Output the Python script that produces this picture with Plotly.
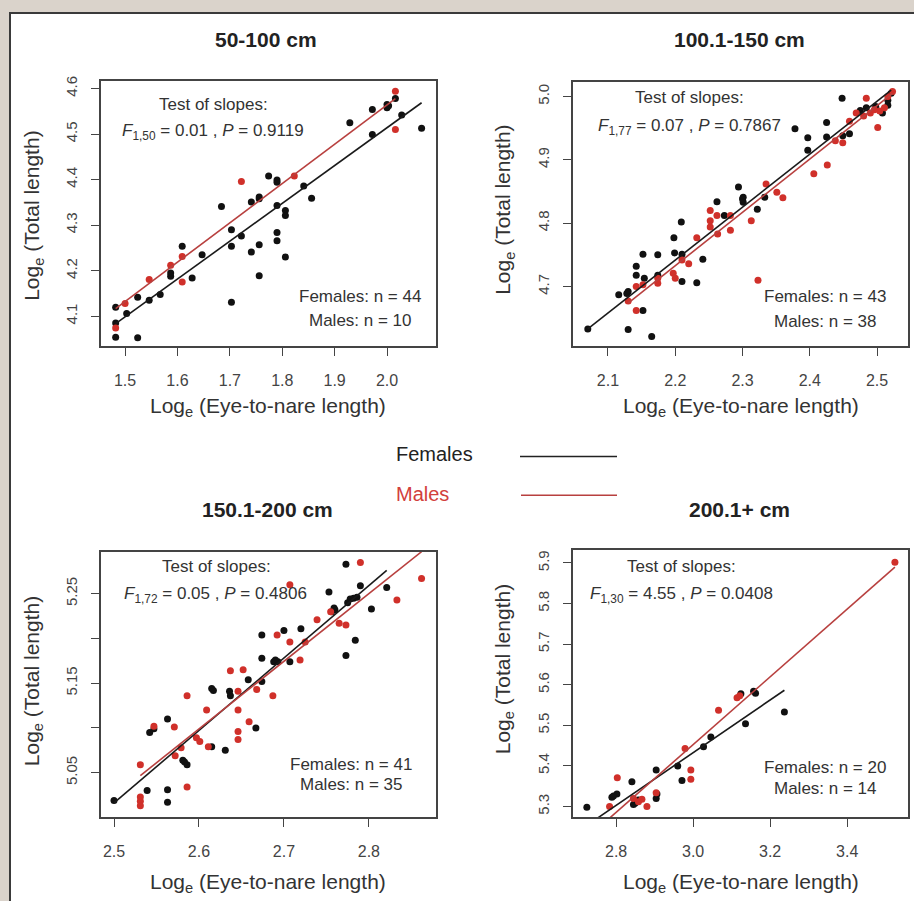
import plotly.graph_objects as go

W, H = 914, 901

# ---------------- data ----------------
panel_titles = ["50-100 cm", "100.1-150 cm", "150.1-200 cm", "200.1+ cm"]

# Panel 1: 50-100 cm
p1_fem_x = [1.482, 1.482, 1.482, 1.524, 1.503, 1.524, 1.546, 1.567, 1.587, 1.587, 1.609, 1.628, 1.647, 1.684,
            1.703, 1.703, 1.703, 1.722, 1.741, 1.741, 1.756, 1.756, 1.756, 1.756, 1.774, 1.790, 1.790, 1.790,
            1.790, 1.790, 1.806, 1.806, 1.806, 1.841, 1.856, 1.929, 1.972, 1.972, 2.000, 2.000, 2.003, 2.016,
            2.028, 2.066]
p1_fem_y = [4.120, 4.085, 4.054, 4.053, 4.106, 4.142, 4.135, 4.148, 4.188, 4.195, 4.254, 4.184, 4.235, 4.341,
            4.290, 4.254, 4.131, 4.276, 4.351, 4.241, 4.358, 4.362, 4.257, 4.189, 4.408, 4.399, 4.394, 4.343,
            4.284, 4.266, 4.332, 4.321, 4.230, 4.386, 4.359, 4.525, 4.554, 4.499, 4.565, 4.558, 4.562, 4.578,
            4.542, 4.513]
p1_male_x = [1.482, 1.500, 1.546, 1.587, 1.609, 1.609, 1.722, 1.823, 2.016, 2.016]
p1_male_y = [4.074, 4.128, 4.181, 4.212, 4.231, 4.175, 4.396, 4.408, 4.594, 4.510]

# Panel 2: 100.1-150 cm
p2_fem_x = [2.070, 2.116, 2.130, 2.130, 2.142, 2.142, 2.154, 2.152, 2.152, 2.165, 2.174, 2.174, 2.198, 2.199,
            2.209, 2.210, 2.210, 2.232, 2.241, 2.262, 2.273, 2.294, 2.301, 2.301, 2.322, 2.333, 2.378, 2.397,
            2.397, 2.425, 2.425, 2.448, 2.449, 2.475, 2.498, 2.508, 2.516, 2.521, 2.459, 2.484, 2.516, 2.128,
            2.300]
p2_fem_y = [4.633, 4.687, 4.692, 4.632, 4.732, 4.718, 4.713, 4.751, 4.662, 4.621, 4.750, 4.718, 4.777, 4.753,
            4.802, 4.751, 4.708, 4.706, 4.743, 4.834, 4.812, 4.857, 4.841, 4.833, 4.822, 4.841, 4.949, 4.935,
            4.915, 4.959, 4.936, 4.997, 4.938, 4.978, 4.984, 4.974, 4.986, 5.005, 4.941, 4.982, 4.994, 4.689,
            4.838]
p2_male_x = [2.130, 2.142, 2.142, 2.152, 2.174, 2.174, 2.197, 2.200, 2.210, 2.220, 2.232, 2.252, 2.252, 2.252,
             2.263, 2.262, 2.282, 2.282, 2.313, 2.335, 2.351, 2.360, 2.323, 2.406, 2.426, 2.438, 2.449, 2.459,
             2.484, 2.480, 2.490, 2.501, 2.504, 2.516, 2.523, 2.511, 2.469, 2.496]
p2_male_y = [4.677, 4.700, 4.662, 4.703, 4.705, 4.713, 4.721, 4.713, 4.742, 4.736, 4.777, 4.820, 4.804, 4.794,
             4.783, 4.812, 4.789, 4.812, 4.804, 4.862, 4.849, 4.840, 4.710, 4.878, 4.892, 4.930, 4.927, 4.961,
             4.997, 4.969, 4.974, 4.951, 4.977, 5.000, 5.008, 4.982, 4.974, 4.979]

# Panel 3: 150.1-200 cm
p3_fem_x = [2.500, 2.539, 2.563, 2.563, 2.563, 2.547, 2.581, 2.586, 2.615, 2.615, 2.631, 2.636, 2.637, 2.658,
            2.667, 2.674, 2.674, 2.674, 2.688, 2.693, 2.700, 2.707, 2.720, 2.753, 2.759, 2.756, 2.773, 2.773,
            2.778, 2.782, 2.784, 2.786, 2.790, 2.803, 2.821, 2.775, 2.690, 2.583, 2.617, 2.760, 2.542]
p3_fem_y = [5.019, 5.030, 5.031, 5.017, 5.110, 5.099, 5.064, 5.059, 5.144, 5.079, 5.075, 5.141, 5.136, 5.154,
            5.100, 5.152, 5.178, 5.204, 5.174, 5.174, 5.209, 5.174, 5.211, 5.252, 5.234, 5.230, 5.283, 5.181,
            5.244, 5.245, 5.198, 5.246, 5.259, 5.233, 5.257, 5.240, 5.176, 5.062, 5.142, 5.232, 5.095]
p3_male_x = [2.531, 2.531, 2.531, 2.531, 2.547, 2.571, 2.572, 2.579, 2.586, 2.586, 2.597, 2.601, 2.609, 2.611,
             2.637, 2.646, 2.646, 2.646, 2.646, 2.652, 2.659, 2.668, 2.687, 2.692, 2.707, 2.707, 2.719, 2.725,
             2.739, 2.755, 2.765, 2.773, 2.790, 2.833, 2.862]
p3_male_y = [5.059, 5.023, 5.018, 5.013, 5.102, 5.101, 5.069, 5.078, 5.136, 5.034, 5.089, 5.085, 5.120, 5.079,
             5.164, 5.141, 5.120, 5.096, 5.087, 5.165, 5.107, 5.143, 5.136, 5.204, 5.196, 5.260, 5.176, 5.196,
             5.221, 5.230, 5.217, 5.215, 5.285, 5.243, 5.267]

# Panel 4: 200.1+ cm
p4_fem_x = [2.724, 2.789, 2.802, 2.841, 2.849, 2.904, 2.904, 2.906, 2.960, 2.971, 3.027, 3.046, 3.124, 3.136,
            3.157, 3.162, 3.237, 2.858, 2.793, 2.845]
p4_fem_y = [5.298, 5.323, 5.331, 5.361, 5.308, 5.390, 5.320, 5.331, 5.400, 5.364, 5.447, 5.471, 5.578, 5.504,
            5.584, 5.579, 5.533, 5.316, 5.326, 5.305]
p4_male_x = [2.783, 2.803, 2.845, 2.858, 2.867, 2.880, 2.904, 2.979, 2.994, 2.994, 3.066, 3.114, 3.121, 3.524]
p4_male_y = [5.300, 5.371, 5.320, 5.312, 5.318, 5.300, 5.334, 5.443, 5.390, 5.367, 5.537, 5.568, 5.573, 5.902]

# fitted regression lines (intercept, slope)
fit_female = [(2.853, 0.8305), (2.9025, 0.836), (2.9912, 0.810), (3.4856, 0.649)]
fit_male = [(2.8376, 0.8633), (2.8805, 0.842), (3.1333, 0.756), (2.9487, 0.8346)]

# test of slopes: df, F, P ; sample sizes
slope_df = ["1,50", "1,77", "1,72", "1,30"]
slope_F = ["0.01", "0.07", "0.05", "4.55"]
slope_P = ["0.9119", "0.7867", "0.4806", "0.0408"]
n_females = [44, 43, 41, 20]
n_males = [10, 38, 35, 14]

# ticks
x_tickvals = [[1.5, 1.6, 1.7, 1.8, 1.9, 2.0], [2.1, 2.2, 2.3, 2.4, 2.5], [2.5, 2.6, 2.7, 2.8], [2.8, 3.0, 3.2, 3.4]]
x_ticktext = [["1.5", "1.6", "1.7", "1.8", "1.9", "2.0"], ["2.1", "2.2", "2.3", "2.4", "2.5"],
              ["2.5", "2.6", "2.7", "2.8"], ["2.8", "3.0", "3.2", "3.4"]]
y_tickvals = [[4.1, 4.2, 4.3, 4.4, 4.5, 4.6], [4.7, 4.8, 4.9, 5.0], [5.05, 5.10, 5.15, 5.20, 5.25],
              [5.3, 5.4, 5.5, 5.6, 5.7, 5.8, 5.9]]
y_ticktext = [["4.1", "4.2", "4.3", "4.4", "4.5", "4.6"], ["4.7", "4.8", "4.9", "5.0"],
              ["5.05", "", "5.15", "", "5.25"], ["5.3", "5.4", "5.5", "5.6", "5.7", "5.8", "5.9"]]

fem_x = [p1_fem_x, p2_fem_x, p3_fem_x, p4_fem_x]
fem_y = [p1_fem_y, p2_fem_y, p3_fem_y, p4_fem_y]
male_x = [p1_male_x, p2_male_x, p3_male_x, p4_male_x]
male_y = [p1_male_y, p2_male_y, p3_male_y, p4_male_y]

# ---------------- layout geometry (pixels) ----------------
boxes = [(101, 436, 76, 343), (573, 908, 77, 343), (101, 436, 550, 817), (573, 908, 548, 817)]
xranges = [(1.454, 2.0935), (2.048, 2.546), (2.4847, 2.879), (2.688, 3.558)]
yranges = [(4.0345, 4.6175), (4.606, 5.0235), (5.0, 5.2967), (5.273, 5.932)]
title_pos = [(266, 35), (739, 35), (267, 507), (739, 507)]
xtitle_pos = [(268, 404), (741, 404), (268, 883), (741, 883)]
ytitle_pos = [(33, 212), (504, 206), (33, 680), (504, 668)]
test_pos = [(213, 100), (689, 93), (216, 565), (681, 565)]
fline_pos = [(213, 128), (689, 123), (215, 593), (681, 593)]
fem_pos = [(360, 293), (825, 293), (351, 764), (825, 767)]
male_pos = [(360, 317), (825, 318), (351, 784), (825, 788)]

FONT = "Liberation Sans, Arial, sans-serif"
BLACK = "#111111"
RED_PT = "#d0302a"
RED_LN = "#b8403f"
TXT = "#333333"


def px(x):
    return x / W


def py(y):
    return 1 - y / H


fig = go.Figure()
annotations = []
layout_axes = {}

for i in range(4):
    xa = "x" if i == 0 else f"x{i+1}"
    ya = "y" if i == 0 else f"y{i+1}"
    x0, x1, y0, y1 = boxes[i]
    layout_axes["xaxis" if i == 0 else f"xaxis{i+1}"] = dict(
        domain=[px(x0), px(x1)], range=list(xranges[i]), anchor=ya,
        showgrid=False, zeroline=False, showline=True, mirror=True,
        linecolor="#444", linewidth=1.5, ticks="outside", ticklen=8, tickwidth=1.2,
        tickcolor="#444", tickvals=x_tickvals[i], ticktext=x_ticktext[i],
        tickfont=dict(family=FONT, size=16, color="#444"), ticklabelstandoff=11,
    )
    layout_axes["yaxis" if i == 0 else f"yaxis{i+1}"] = dict(
        domain=[py(y1), py(y0)], range=list(yranges[i]), anchor=xa,
        showgrid=False, zeroline=False, showline=True, mirror=True,
        linecolor="#444", linewidth=1.5, ticks="outside", ticklen=8, tickwidth=1.2,
        tickcolor="#444", tickvals=y_tickvals[i], ticktext=y_ticktext[i], tickangle=-90,
        tickfont=dict(family=FONT, size=15, color="#444"), ticklabelstandoff=8,
    )

    # points
    fig.add_trace(go.Scatter(x=fem_x[i], y=fem_y[i], mode="markers", xaxis=xa, yaxis=ya,
                             marker=dict(size=7, color=BLACK), showlegend=False, cliponaxis=True))
    fig.add_trace(go.Scatter(x=male_x[i], y=male_y[i], mode="markers", xaxis=xa, yaxis=ya,
                             marker=dict(size=7, color=RED_PT), showlegend=False, cliponaxis=True))
    # regression lines over each group's range
    a, b = fit_female[i]
    lx = [min(fem_x[i]), max(fem_x[i])]
    fig.add_trace(go.Scatter(x=lx, y=[a + b * v for v in lx], mode="lines", xaxis=xa, yaxis=ya,
                             line=dict(color="#1a1a1a", width=1.6), showlegend=False))
    a, b = fit_male[i]
    lx = [min(male_x[i]), max(male_x[i])]
    fig.add_trace(go.Scatter(x=lx, y=[a + b * v for v in lx], mode="lines", xaxis=xa, yaxis=ya,
                             line=dict(color=RED_LN, width=1.6), showlegend=False))

    # texts
    annotations.append(dict(text=f"<b>{panel_titles[i]}</b>", x=px(title_pos[i][0]), y=py(title_pos[i][1]),
                            xref="paper", yref="paper", showarrow=False, xanchor="center", yanchor="middle",
                            font=dict(family=FONT, size=21, color="#222")))
    annotations.append(dict(text="Log<sub>e</sub> (Eye-to-nare length)", x=px(xtitle_pos[i][0]),
                            y=py(xtitle_pos[i][1]), xref="paper", yref="paper", showarrow=False,
                            xanchor="center", yanchor="middle", font=dict(family=FONT, size=21, color="#333")))
    annotations.append(dict(text="Log<sub>e</sub> (Total length)", x=px(ytitle_pos[i][0]),
                            y=py(ytitle_pos[i][1]), xref="paper", yref="paper", showarrow=False, textangle=-90,
                            xanchor="center", yanchor="middle", font=dict(family=FONT, size=21, color="#333")))
    annotations.append(dict(text="Test of slopes:", x=px(test_pos[i][0]), y=py(test_pos[i][1]),
                            xref="paper", yref="paper", showarrow=False, xanchor="center", yanchor="middle",
                            font=dict(family=FONT, size=17, color=TXT)))
    annotations.append(dict(text=f"<i>F</i><sub>{slope_df[i]}</sub> = {slope_F[i]} , <i>P</i> = {slope_P[i]}",
                            x=px(fline_pos[i][0]), y=py(fline_pos[i][1]),
                            xref="paper", yref="paper", showarrow=False, xanchor="center", yanchor="middle",
                            font=dict(family=FONT, size=17, color=TXT)))
    annotations.append(dict(text=f"Females: n = {n_females[i]}", x=px(fem_pos[i][0]), y=py(fem_pos[i][1]),
                            xref="paper", yref="paper", showarrow=False, xanchor="center", yanchor="middle",
                            font=dict(family=FONT, size=17, color=TXT)))
    annotations.append(dict(text=f"Males: n = {n_males[i]}", x=px(male_pos[i][0]), y=py(male_pos[i][1]),
                            xref="paper", yref="paper", showarrow=False, xanchor="center", yanchor="middle",
                            font=dict(family=FONT, size=17, color=TXT)))

# central legend
annotations.append(dict(text="Females", x=px(394), y=py(452), xref="paper", yref="paper", showarrow=False,
                        xanchor="left", yanchor="middle", font=dict(family=FONT, size=20, color="#222")))
annotations.append(dict(text="Males", x=px(394), y=py(492), xref="paper", yref="paper", showarrow=False,
                        xanchor="left", yanchor="middle", font=dict(family=FONT, size=20, color="#d2403c")))

shapes = [
    dict(type="rect", xref="paper", yref="paper", x0=px(10), x1=1.02, y0=-0.02, y1=py(8),
         fillcolor="white", line=dict(color="#3a3a3a", width=2), layer="below"),
    dict(type="line", xref="paper", yref="paper", x0=px(520), x1=px(617), y0=py(454), y1=py(454),
         line=dict(color="#222", width=1.5)),
    dict(type="line", xref="paper", yref="paper", x0=px(521), x1=px(617), y0=py(493), y1=py(493),
         line=dict(color=RED_LN, width=1.5)),
]

fig.update_layout(
    width=W, height=H, margin=dict(l=0, r=0, t=0, b=0),
    paper_bgcolor="#dad3cb", plot_bgcolor="white",
    annotations=annotations, shapes=shapes, showlegend=False,
    **layout_axes,
)

fig.write_html("out.html")
